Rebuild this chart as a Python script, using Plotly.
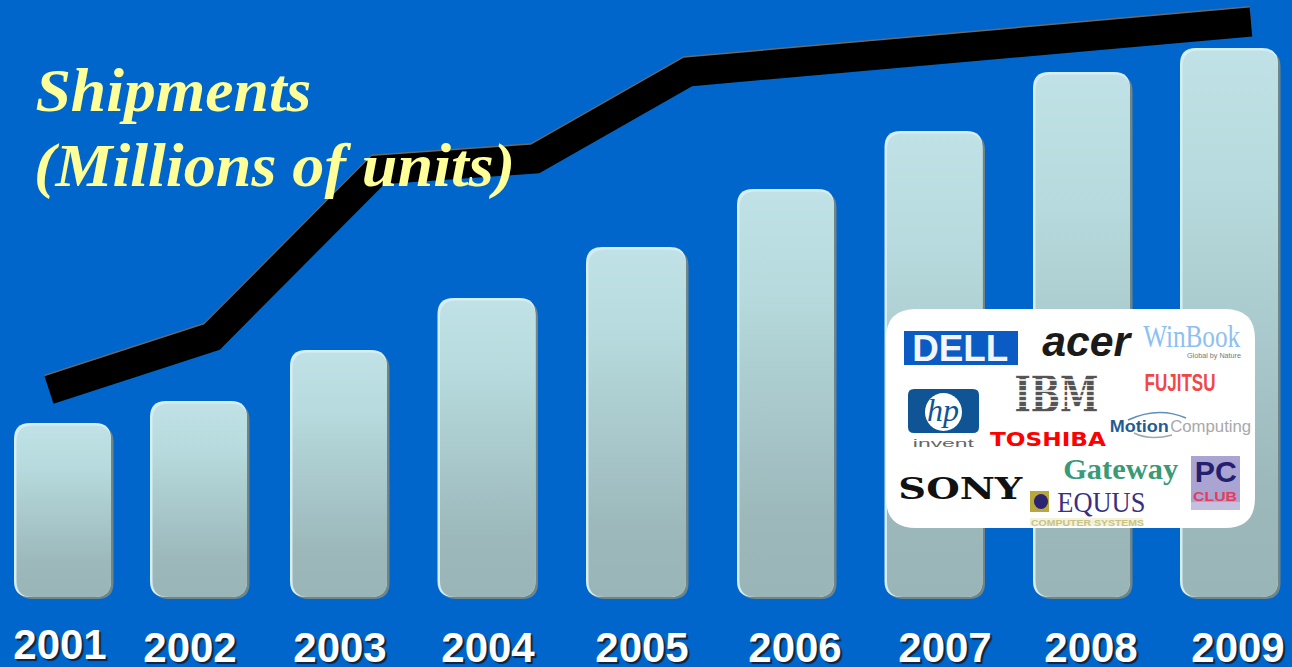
import json
import plotly.graph_objects as go

# --- data (value scale is arbitrary, no axis is shown) ---
years = ["2001", "2002", "2003", "2004", "2005", "2006", "2007", "2008", "2009"]
bar_values = [174, 196, 247, 299, 350, 408, 466, 525, 549]
line_values = [207, 260, 427, 438, 525, 575]

# --- placement ---
bar_x = [62.5, 198.5, 338.5, 486.5, 636, 785.5, 933.5, 1081.5, 1229]
bar_w = [97, 97, 97, 98, 100, 97, 98, 97, 98]
line_x = [49, 212, 378, 535, 688, 1251]
label_x = [60, 190, 340, 488, 642, 795, 945, 1091, 1238]
label_y = [-51, -54, -54, -54, -54, -54, -54, -54, -54]

W, H = 1292, 667
Y0 = 597          # pixel row of the bars' base
def py(p):
    return Y0 - p

fig = go.Figure()
# shadow, highlight and main body of the bars
fig.add_bar(x=[v + 2.5 for v in bar_x], y=[v - 1 for v in bar_values], base=-2, width=bar_w,
            marker=dict(color="#6f8588", line_width=0))
fig.add_bar(x=bar_x, y=bar_values, base=0, width=bar_w,
            marker=dict(color="#d6eef2", line_width=0))
fig.add_bar(x=[v + 1.25 for v in bar_x], y=[v - 2.5 for v in bar_values], base=0, width=[v - 2.5 for v in bar_w],
            marker=dict(color="#aacbce", line_width=0))
# trend line: grey rim then black body
fig.add_scatter(x=line_x, y=[v + 1.5 for v in line_values], mode="lines",
                line=dict(color="#6a6a6a", width=29), hoverinfo="skip")
fig.add_scatter(x=line_x, y=line_values, mode="lines",
                line=dict(color="#000000", width=29), hoverinfo="skip")
# year labels
fig.add_scatter(x=label_x, y=label_y, mode="text", text=years, hoverinfo="skip",
                textfont=dict(family="Liberation Sans", size=42, color="white",
                              weight="bold", shadow="2px 2px 1px #10243c"))

def rrect(x0, top, x1, bottom, r):
    y0, y1 = py(top), py(bottom)
    return (f"M{x0+r},{y0} L{x1-r},{y0} Q{x1},{y0} {x1},{y0-r} L{x1},{y1+r} Q{x1},{y1} {x1-r},{y1} "
            f"L{x0+r},{y1} Q{x0},{y1} {x0},{y1+r} L{x0},{y0-r} Q{x0},{y0} {x0+r},{y0} Z")

def box(x0, top, x1, bottom, color, kind="rect"):
    return dict(type=kind, x0=x0, x1=x1, y0=py(top), y1=py(bottom), fillcolor=color, line_width=0)

shapes = [
    dict(type="path", path=rrect(886, 309, 1255, 528, 30), fillcolor="white", line_width=0),
    box(904, 331, 1018, 365, "#0a5cc4"),
    dict(type="path", path=rrect(908, 389, 979, 433, 6), fillcolor="#0f5596", line_width=0),
    box(925, 393, 962, 431, "white", "circle"),
    box(1191, 456, 1240, 510, "#a9a4d2"),
    box(1191, 502, 1240, 510, "#c4c0e0"),
    box(1030, 491, 1049, 512, "#b8a83c"),
    box(1034, 494, 1048, 509, "#2c2470", "circle"),
    box(1030, 518, 1143, 526, "#f4f2dc"),
    dict(type="path", path=f"M1128,{py(420)} Q1158,{py(406)} 1186,{py(418)}",
         line=dict(color="#5f8fb8", width=1.5)),
    dict(type="path", path=f"M1134,{py(433)} Q1150,{py(441)} 1172,{py(435)}",
         line=dict(color="#9aa8b4", width=1.5)),
]

def note(text, x, y, size, color, family="Liberation Sans", weight="normal", style="normal", anchor="center"):
    return dict(text=text, x=x, y=py(y), xref="x", yref="y", showarrow=False, xanchor=anchor,
                yanchor="middle", font=dict(family=family, size=size, color=color, weight=weight, style=style))

title_font = dict(family="Liberation Serif", weight="bold", style="italic")
annotations = [
    note("Shipments", 37, 90, 62, "#ffff99", anchor="left", **title_font),
    note("(Millions of units)", 40, 165, 62, "#ffff99", anchor="left", **title_font),
    note("DELL", 960, 348, 37, "#f2f6fc", weight="bold"),
    note("acer", 1087, 341, 42, "#1a1a1a", weight="bold", style="italic"),
    note("WinBook", 1192, 336, 31, "#8cc0f0", family="Liberation Serif"),
    note("Global by Nature", 1214, 355, 8, "#777777"),
    note("FUJITSU", 1180, 382, 24, "#f04848", weight="bold"),
    note("IBM", 1056, 394, 50, "#555555", family="DejaVu Serif", weight="bold"),
    note("hp", 943, 410, 32, "#0f5596", family="Liberation Serif", style="italic"),
    note("invent", 943, 443, 10, "#666666"),
    note("Motion", 1139, 426, 16, "#1f5c96", weight="bold"),
    note("Computing", 1210, 426, 16, "#a8a8a8"),
    note("TOSHIBA", 1048, 439, 20, "#ff0000", family="DejaVu Sans", weight="bold"),
    note("Gateway", 1120, 468, 30, "#3a9a78", family="Liberation Serif", weight="bold"),
    note("SONY", 960, 488, 30, "#111111", family="DejaVu Serif", weight="bold"),
    note("EQUUS", 1101, 502, 29, "#3a2f80", family="Liberation Serif"),
    note("COMPUTER SYSTEMS", 1087, 523, 9, "#c8c480", weight="bold"),
    note("PC", 1216, 471, 30, "#25206e", weight="bold"),
    note("CLUB", 1215, 496, 13, "#e83a5a", weight="bold"),
]
# ink widths of the wordmarks in the picture, applied to the real text elements
text_widths = {"Shipments": 276, "(Millions of units)": 481, "DELL": 96, "acer": 88, "WinBook": 97,
               "Global by Nature": 54, "FUJITSU": 71, "IBM": 84, "invent": 61, "Motion": 59,
               "Computing": 81, "TOSHIBA": 116, "Gateway": 115, "SONY": 124, "EQUUS": 88,
               "COMPUTER SYSTEMS": 113, "PC": 42, "CLUB": 44}

fig.update_layout(
    width=W, height=H, margin=dict(l=0, r=0, t=0, b=0),
    paper_bgcolor="#0066cc", plot_bgcolor="#0066cc",
    barmode="overlay", showlegend=False,
    xaxis=dict(range=[0, W], visible=False, fixedrange=True),
    yaxis=dict(range=[Y0 - H, Y0], visible=False, fixedrange=True),
    shapes=shapes, annotations=annotations,
)

post = """
document.body.style.margin = '0';
var gd = document.getElementById('{plot_id}');
var svg = gd.querySelector('.main-svg');
var NS = 'http://www.w3.org/2000/svg';
var defs = svg.querySelector('defs');
function grad(id, stops, y2, repeat) {
  var g = document.createElementNS(NS, 'linearGradient');
  g.setAttribute('id', id); g.setAttribute('x1', '0'); g.setAttribute('y1', '0');
  g.setAttribute('x2', '0'); g.setAttribute('y2', y2);
  if (repeat) { g.setAttribute('spreadMethod', 'repeat'); }
  stops.forEach(function (s) {
    var st = document.createElementNS(NS, 'stop');
    st.setAttribute('offset', s[0]); st.setAttribute('stop-color', s[1]); g.appendChild(st);
  });
  defs.appendChild(g);
}
grad('barGrad', [[0, '#c0e2e6'], [0.25, '#b6dadd'], [0.8, '#9cb8bb'], [1, '#9ab5b8']], '1', false);
grad('ibmGrad', [[0, '#555555'], [0.68, '#555555'], [0.68, '#dddddd'], [1, '#dddddd']], '0.09', true);
gd.querySelectorAll('.barlayer .trace').forEach(function (t, i) {
  t.querySelectorAll('.point path').forEach(function (p) {
    var b = p.getBBox(), r = 16, x0 = b.x, y0 = b.y, x1 = b.x + b.width, y1 = b.y + b.height;
    p.setAttribute('d', 'M' + (x0 + r) + ',' + y0 + 'L' + (x1 - r) + ',' + y0 + 'Q' + x1 + ',' + y0 + ' ' + x1 + ',' + (y0 + r) +
      'L' + x1 + ',' + (y1 - r) + 'Q' + x1 + ',' + y1 + ' ' + (x1 - r) + ',' + y1 +
      'L' + (x0 + r) + ',' + y1 + 'Q' + x0 + ',' + y1 + ' ' + x0 + ',' + (y1 - r) +
      'L' + x0 + ',' + (y0 + r) + 'Q' + x0 + ',' + y0 + ' ' + (x0 + r) + ',' + y0 + 'Z');
    if (i === 2) { p.style.fill = 'url(#barGrad)'; }
  });
});
gd.querySelectorAll('.scatterlayer .trace .js-line').forEach(function (l) {
  l.style.strokeLinejoin = 'miter'; l.style.strokeLinecap = 'butt';
});
var widths = __WIDTHS__;
gd.querySelectorAll('.annotation-text').forEach(function (t) {
  var w = widths[t.textContent];
  if (w) { t.setAttribute('textLength', w); t.setAttribute('lengthAdjust', 'spacingAndGlyphs'); }
  if (t.textContent === 'IBM') { t.style.fill = 'url(#ibmGrad)'; }
});
""".replace("__WIDTHS__", json.dumps(text_widths))
fig.write_html("out.html", post_script=post, config={"displayModeBar": False})
